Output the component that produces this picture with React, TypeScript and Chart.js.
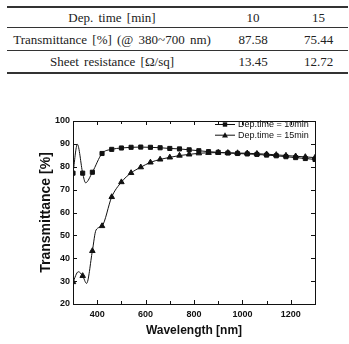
import React, { useEffect, useRef } from "react";
import { Chart, registerables } from "chart.js";

Chart.register(...registerables);

// ---- table data ----
const tableHeader = ["Dep. time [min]", "10", "15"];
const tableRows = [
  ["Transmittance [%] (@ 380~700 nm)", "87.58", "75.44"],
  ["Sheet resistance [Ω/sq]", "13.45", "12.72"],
];

// ---- chart data ----
const seriesLabels = ["Dep.time = 10min", "Dep.time = 15min"];
const tenMinWavelengths = [
  300, 318, 340, 352, 380, 420, 460, 500, 540, 580, 620, 660, 700, 740, 780, 820,
  860, 900, 940, 980, 1020, 1060, 1100, 1140, 1180, 1220, 1260, 1300,
];
const tenMinValues = [
  77.2, 89.8, 77.2, 73.0, 77.6, 85.8, 87.6, 88.2, 88.5, 88.6, 88.5, 88.3, 88.0, 87.8, 87.4, 87.0,
  86.6, 86.3, 86.0, 85.8, 85.6, 85.4, 85.1, 84.8, 84.4, 84.0, 83.6, 83.2,
];
const fifteenMinWavelengths = [
  300, 322, 340, 356, 380, 395, 420, 460, 500, 540, 580, 620, 660, 700, 740, 780, 820,
  860, 900, 940, 980, 1020, 1060, 1100, 1140, 1180, 1220, 1260, 1300,
];
const fifteenMinValues = [
  29.6, 34.1, 32.3, 29.0, 43.2, 52.3, 54.1, 66.8, 73.3, 77.3, 79.8, 81.9, 83.2, 84.1, 84.9, 85.4, 85.9,
  86.1, 86.2, 86.1, 86.0, 85.9, 85.7, 85.5, 85.2, 84.9, 84.6, 84.3, 84.0,
];
const markerStart = 300;
const markerStep = 40;
const xMin = 300;
const xMax = 1300;
const yMin = 20;
const yMax = 100;
const xLabelTicks = [400, 600, 800, 1000, 1200];

const SANS = "'Liberation Sans', Arial, Helvetica, sans-serif";
const SERIF = "'Liberation Serif', 'Times New Roman', serif";

const isMarker = (wl: number) => (wl - markerStart) % markerStep === 0;

const frameTicksPlugin = {
  id: "frameTicks",
  afterDatasetsDraw(chart: any) {
    const { ctx, chartArea } = chart;
    const { left, right, top, bottom } = chartArea;
    const xs = chart.scales.x;
    const ys = chart.scales.y;
    ctx.save();
    ctx.strokeStyle = "#111";
    ctx.lineWidth = 1;
    ctx.strokeRect(left + 0.5, top + 0.5, right - left, bottom - top);
    ctx.beginPath();
    xs.ticks.forEach((t: any) => {
      const px = Math.round(xs.getPixelForValue(t.value)) + 0.5;
      const len = xLabelTicks.includes(t.value) ? 4 : 3;
      ctx.moveTo(px, bottom);
      ctx.lineTo(px, bottom - len);
      ctx.moveTo(px, top);
      ctx.lineTo(px, top + len);
    });
    ys.ticks.forEach((t: any) => {
      const py = Math.round(ys.getPixelForValue(t.value)) + 0.5;
      ctx.moveTo(left, py);
      ctx.lineTo(left + 4, py);
      ctx.moveTo(right, py);
      ctx.lineTo(right - 4, py);
    });
    ctx.stroke();
    ctx.restore();
  },
  afterDraw(chart: any) {
    const { ctx, chartArea } = chart;
    ctx.save();
    ctx.font = `9px ${SANS}`;
    ctx.textBaseline = "middle";
    ctx.fillStyle = "#111";
    ctx.strokeStyle = "#111";
    ctx.lineWidth = 1;
    seriesLabels.forEach((label, i) => {
      const y = chartArea.top + 3.5 + i * 10.7;
      const x0 = chartArea.right - 100;
      ctx.beginPath();
      ctx.moveTo(x0, y);
      ctx.lineTo(x0 + 20, y);
      ctx.stroke();
      const cx = x0 + 10;
      ctx.beginPath();
      if (i === 0) {
        ctx.rect(cx - 2.2, y - 2.2, 4.4, 4.4);
      } else {
        ctx.moveTo(cx, y - 3);
        ctx.lineTo(cx + 3, y + 2.2);
        ctx.lineTo(cx - 3, y + 2.2);
        ctx.closePath();
      }
      ctx.fill();
      ctx.fillText(label, x0 + 23, y + 0.5);
    });
    ctx.restore();
  },
};

function TransmittanceChart() {
  const ref = useRef<HTMLCanvasElement | null>(null);
  useEffect(() => {
    if (!ref.current) return;
    const chart = new Chart(ref.current, {
      type: "line",
      data: {
        datasets: [
          {
            label: seriesLabels[0],
            data: tenMinWavelengths.map((x, i) => ({ x, y: tenMinValues[i] })),
            borderColor: "#111",
            backgroundColor: "#111",
            borderWidth: 1,
            pointStyle: "rect",
            pointRadius: (c: any) => (isMarker(c.raw.x) ? 2.9 : 0),
            cubicInterpolationMode: "monotone",
          },
          {
            label: seriesLabels[1],
            data: fifteenMinWavelengths.map((x, i) => ({ x, y: fifteenMinValues[i] })),
            borderColor: "#111",
            backgroundColor: "#111",
            borderWidth: 1,
            pointStyle: "triangle",
            pointRadius: (c: any) => (isMarker(c.raw.x) ? 3.2 : 0),
            cubicInterpolationMode: "monotone",
          },
        ],
      },
      options: {
        responsive: false,
        animation: false,
        devicePixelRatio: 1,
        layout: { padding: { top: 41, right: 34, left: 0, bottom: 0 } },
        plugins: { legend: { display: false }, tooltip: { enabled: false } },
        elements: { point: { hoverRadius: 0 } },
        scales: {
          x: {
            type: "linear",
            min: xMin,
            max: xMax,
            grid: { display: false, drawTicks: false },
            border: { display: false },
            ticks: {
              stepSize: 100,
              padding: 5,
              maxRotation: 0,
              autoSkip: false,
              color: "#111",
              font: { family: SANS, size: 9, weight: "bold" },
              callback: (v: any) => (xLabelTicks.includes(Number(v)) ? String(v) : ""),
            },
            title: {
              display: true,
              text: "Wavelength [nm]",
              color: "#111",
              font: { family: SANS, size: 12, weight: "bold" },
              padding: { top: 0, bottom: 6 },
            },
            afterFit: (s: any) => {
              s.height = 40;
            },
          },
          y: {
            min: yMin,
            max: yMax,
            grid: { display: false, drawTicks: false },
            border: { display: false },
            ticks: {
              stepSize: 10,
              padding: 3,
              color: "#111",
              font: { family: SANS, size: 9, weight: "bold" },
            },
            title: {
              display: true,
              text: "Transmittance [%]",
              color: "#111",
              font: { family: SANS, size: 14, weight: "bold" },
              padding: { top: 38, bottom: 0 },
            },
            afterFit: (s: any) => {
              s.width = 73;
            },
          },
        },
      },
      plugins: [frameTicksPlugin],
    } as any);
    return () => chart.destroy();
  }, []);
  return (
    <canvas
      ref={ref}
      width={349}
      height={264}
      style={{ position: "absolute", left: 0, top: 80, width: 349, height: 264 }}
    />
  );
}

const colWidths = [210, 72, 59];

function Row({ cells, top, height }: { cells: string[]; top: number; height: number }) {
  return (
    <div style={{ position: "absolute", left: 7, top, height, display: "flex", alignItems: "center" }}>
      {cells.map((c, i) => (
        <div key={i} style={{ width: colWidths[i], textAlign: "center" }}>
          {c}
        </div>
      ))}
    </div>
  );
}

function ResultTable() {
  const rule = (top: number, h: number) => (
    <div style={{ position: "absolute", left: 7, width: 341, top, height: h, background: "#333" }} />
  );
  return (
    <div
      style={{
        position: "absolute",
        left: 0,
        top: 0,
        width: 349,
        height: 80,
        fontFamily: SERIF,
        fontSize: 13,
        wordSpacing: 2,
        color: "#222",
        lineHeight: "15px",
      }}
    >
      {rule(6, 2)}
      <Row cells={tableHeader} top={7} height={21} />
      {rule(27, 1)}
      <Row cells={tableRows[0]} top={28} height={22} />
      {rule(50, 1)}
      <Row cells={tableRows[1]} top={51} height={21} />
      {rule(72, 1.5)}
    </div>
  );
}

export default function App() {
  return (
    <div style={{ position: "absolute", left: 0, top: 0, width: 349, height: 344, background: "#fff" }}>
      <ResultTable />
      <TransmittanceChart />
    </div>
  );
}
